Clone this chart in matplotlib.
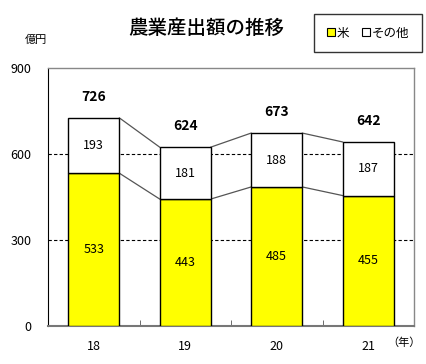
import matplotlib
matplotlib.use("Agg")
import matplotlib.pyplot as plt
from matplotlib.lines import Line2D

plt.rcParams['font.family'] = ['Noto Sans CJK JP', 'DejaVu Sans']

years = ['18', '19', '20', '21']
rice = [533, 443, 485, 455]
other = [193, 181, 188, 187]
totals = [726, 624, 673, 642]
yticks = [0, 300, 600, 900]

W, H = 426, 364
fig = plt.figure(figsize=(W/100, H/100), dpi=100)
ax = fig.add_axes([48/W, 1-326/H, (414-48)/W, (326-68)/H])

x = list(range(len(years)))
bw = 0.56
ax.bar(x, rice, bw, color='#ffff00', edgecolor='black', linewidth=1.0, zorder=3)
ax.bar(x, other, bw, bottom=rice, color='white', edgecolor='black', linewidth=1.0, zorder=3)

# connector lines
for i in range(len(x)-1):
    for a, b in [(rice[i], rice[i+1]), (totals[i], totals[i+1])]:
        ax.plot([x[i]+bw/2, x[i+1]-bw/2], [a, b], color='#555555', lw=0.9, zorder=2)

for i in x:
    ax.text(i, rice[i]/2, str(rice[i]), ha='center', va='center', fontsize=9, zorder=4)
    ax.text(i, rice[i] + other[i]/2, str(other[i]), ha='center', va='center', fontsize=9, zorder=4)
    ax.text(i, totals[i] + 72, str(totals[i]), ha='center', va='center', fontsize=10, fontweight='bold', zorder=4)

ax.set_xlim(-0.5, 3.5)
ax.set_ylim(0, 900)
ax.set_yticks(yticks)
ax.set_yticklabels([str(v) for v in yticks], fontsize=9)
ax.tick_params(axis='y', length=0, pad=12)
for v in [300, 600]:
    ax.axhline(v, color='black', lw=0.8, ls=(0, (3, 2)), zorder=1)

ax.set_xticks(x)
ax.set_xticklabels(years, fontsize=9)
ax.tick_params(axis='x', length=0, pad=10)
ax.set_xticks([0.5, 1.5, 2.5], minor=True)
ax.tick_params(axis='x', which='minor', direction='in', length=4, color='#555555')

for s in ['top', 'right']:
    ax.spines[s].set_color('#888888')
    ax.spines[s].set_linewidth(1.0)
ax.spines['left'].set_color('black')
ax.spines['bottom'].set_color('#777777')
ax.spines['bottom'].set_linewidth(1.5)

fig.text(206/W, 1-28/H, '農業産出額の推移', ha='center', va='center', fontsize=14, fontweight='medium')
fig.text(36/W, 1-40/H, '億円', ha='center', va='center', fontsize=8)
fig.text(404/W, 1-343/H, '（年）', ha='center', va='center', fontsize=8)

handles = [Line2D([], [], marker='s', ls='none', markersize=6, markerfacecolor='#ffff00', markeredgecolor='black', markeredgewidth=0.8),
           Line2D([], [], marker='s', ls='none', markersize=6, markerfacecolor='white', markeredgecolor='black', markeredgewidth=0.8)]
leg = fig.legend(handles, ['米', 'その他'], loc='center', bbox_to_anchor=(368/W, 1-33/H), ncol=2,
                 fontsize=9, frameon=True, fancybox=False, edgecolor='black', handlelength=0.6,
                 handletextpad=0.2, columnspacing=1.0, borderpad=1.0)
leg.get_frame().set_linewidth(1.0)

fig.savefig('out.png', dpi=100)
